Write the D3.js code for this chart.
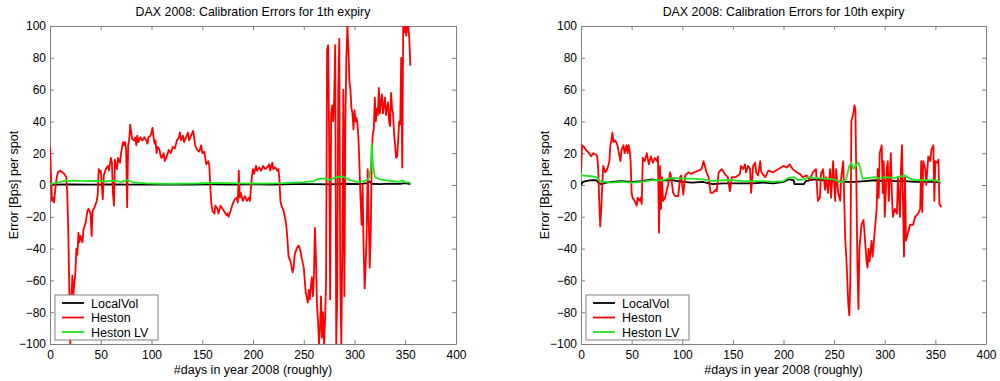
<!DOCTYPE html>
<html lang="en">
<head>
<meta charset="utf-8">
<script src="https://d3js.org/d3.v7.min.js"></script>
<style>
body { margin: 0; background: #fff; }
svg text { font-family: Arial, "Liberation Sans", Helvetica, sans-serif; fill: #000; }
</style>
</head>
<body>
<svg id="chart" width="1000" height="381"></svg>
<script>
// axis ticks
var xTicks = [0, 50, 100, 150, 200, 250, 300, 350, 400];
var yTicks = [-100, -80, -60, -40, -20, 0, 20, 40, 60, 80, 100];
var seriesNames = ["LocalVol", "Heston", "Heston LV"];
var seriesColors = ["#000000", "#ff0000", "#1ee61e"];

// 1th expiry: [day, error in bps]
var localVol1 = [[0,0.2],[20,0.3],[40,0.2],[60,0.3],[80,0.2],[100,0.3],[120,0.2],[140,0.3],[160,0.4],[180,0.3],[200,0.4],[220,0.3],[240,0.5],[260,0.6],[275,0.4],[290,0.8],[305,0.6],[313,1.2],[315,2.2],[317,0.8],[325,0.6],[335,0.9],[345,0.7],[350,1.2],[355,0.6]];
var hestonLV1 = [[0,0.5],[5,1.2],[10,2],[15,2.6],[25,2.8],[35,2.5],[45,2.6],[55,2.2],[63,2.8],[70,2],[77,3],[82,1.6],[95,1],[110,0.7],[125,0.8],[140,0.9],[150,1.1],[160,1.3],[175,1.2],[190,1],[210,0.9],[230,1.2],[250,1.8],[260,2.5],[265,4],[270,4.2],[275,3],[280,4.5],[288,5.5],[295,3.2],[302,2],[310,2.5],[314,4],[316,10],[317,26],[318,14],[320,5],[325,3.5],[335,2.6],[345,2],[347,3],[350,1.8],[355,1.5]];
var heston1 = [[0,24],[1,5],[2,-10],[3,-8],[4,-11],[5,-4],[6,2],[7,6],[8,8],[10,9],[12,8],[14,7],[15,6],[16,5],[17,-5],[18,-30],[19,-65],[20,-100],[21,-72],[22,-57],[23,-70],[24,-62],[25,-55],[26,-40],[27,-44],[28,-30],[29,-36],[30,-32],[32,-36],[33,-28],[35,-24],[37,-16],[38,-15],[40,-18],[41,-32],[42,-16],[44,-14],[46,-10],[47,-6],[48,10],[49,8],[50,9],[51,0],[52,-9],[53,6],[55,10],[57,12],[58,9],[60,17],[61,14],[62,-5],[63,-13],[64,16],[65,12],[66,10],[67,17],[69,14],[70,20],[71,24],[72,27],[73,25],[74,27],[75,22],[76,-14],[77,25],[78,28],[79,38],[80,33],[81,29],[83,28],[84,30],[85,25],[86,31],[87,27],[89,30],[91,28],[93,30],[95,28],[96,26],[97,30],[99,31],[100,33],[101,36],[102,30],[103,26],[104,28],[105,20],[106,24],[108,22],[109,18],[110,17],[112,20],[113,15],[115,18],[117,22],[119,20],[121,24],[123,23],[125,28],[127,30],[128,33],[129,28],[131,31],[132,27],[134,30],[136,33],[137,28],[139,31],[141,34],[142,30],[143,25],[145,22],[147,21],[149,25],[150,20],[152,21],[153,17],[154,13],[155,14],[156,15],[157,12],[158,-2],[159,-12],[160,-16],[162,-18],[163,-13],[165,-15],[166,-18],[168,-13],[170,-15],[172,-17],[174,-19],[175,-18],[176,-20],[178,-16],[180,-12],[182,-9],[184,-8],[185,-11],[186,9],[187,-8],[188,-5],[190,-10],[192,-7],[194,-10],[196,-8],[197,-10],[198,-2],[199,6],[200,10],[201,7],[203,12],[204,9],[206,11],[208,9],[210,12],[212,10],[214,11],[216,13],[217,9],[219,14],[220,10],[222,11],[224,9],[225,10],[226,4],[227,-10],[228,-13],[230,-16],[232,-22],[233,-27],[234,-35],[235,-45],[237,-48],[239,-55],[240,-52],[241,-44],[243,-40],[245,-38],[247,-42],[248,-46],[250,-52],[251,-60],[252,-68],[254,-74],[255,-66],[256,-72],[257,-64],[258,-58],[259,-70],[260,-58],[261,-27],[262,-45],[263,-75],[264,-85],[265,-100],[266,-90],[267,-70],[268,-96],[269,-80],[270,-100],[271,-85],[272,-60],[273,85],[274,88],[275,30],[276,-72],[277,45],[278,50],[279,40],[280,55],[281,88],[282,-100],[283,-70],[284,60],[285,92],[286,-60],[287,-100],[288,-40],[289,60],[290,-70],[291,40],[292,80],[293,100],[294,85],[295,65],[296,60],[297,48],[298,45],[299,35],[300,47],[301,40],[302,42],[303,38],[304,28],[305,10],[306,-10],[307,-25],[308,0],[309,-40],[310,-65],[311,-50],[312,-30],[313,10],[314,-20],[315,-52],[316,-30],[317,20],[318,32],[319,35],[320,55],[321,40],[322,48],[323,44],[324,61],[325,45],[326,52],[327,57],[328,45],[329,50],[330,55],[331,44],[332,48],[333,52],[334,40],[335,37],[336,58],[337,48],[338,45],[339,32],[340,25],[341,17],[342,18],[343,28],[344,40],[345,38],[346,80],[347,11],[348,100],[349,96],[350,100],[351,94],[352,100],[353,100],[354,92],[355,75]];

// 10th expiry
var localVol10 = [[0,0],[2,2],[5,2.5],[10,3],[15,3],[18,1],[20,0.5],[25,1.5],[30,2],[40,2.5],[50,2],[60,2.5],[70,3.5],[75,3],[80,3],[90,3],[100,2],[110,1.5],[120,2],[130,0.5],[140,1],[150,1],[160,1],[170,1],[180,1.5],[190,1],[200,2],[205,3.5],[210,3],[211,0.5],[220,0.5],[222,2.5],[230,3.5],[240,3],[250,2.5],[260,2],[270,2],[280,2.5],[290,3],[300,2.5],[310,2.5],[320,2.5],[330,2],[340,2],[350,2],[355,1.5]];
var hestonLV10 = [[0,6],[10,5.5],[15,5],[20,2],[25,2],[30,1.5],[40,2],[50,1.5],[60,2],[70,3],[80,3],[90,4.5],[100,4],[110,4],[120,3.5],[130,2.5],[140,3],[150,3],[160,2.5],[170,2.5],[180,2.5],[190,2],[200,2.5],[205,4.5],[210,5],[215,3],[220,3.5],[225,5],[230,4.5],[240,4],[250,3.5],[258,1.5],[262,4],[265,12],[267,14],[269,10],[272,13],[274,14],[276,10],[278,4],[285,4.5],[290,5],[295,4],[300,5],[310,4.5],[320,6],[325,4],[330,3],[340,3],[350,3],[355,2]];
var heston10 = [[0,8],[1,25],[3,24],[5,22],[8,20],[10,18],[12,20],[15,19],[16,18],[17,10],[18,-10],[19,-26],[20,-15],[21,0],[22,12],[24,8],[26,10],[28,15],[29,25],[30,28],[31,33],[32,27],[34,28],[36,25],[38,18],[39,15],[40,22],[42,25],[43,20],[45,25],[46,20],[47,25],[48,22],[49,15],[50,-5],[51,-8],[53,-10],[55,-13],[56,-8],[58,-10],[59,-8],[60,-12],[61,17],[63,15],[65,20],[67,13],[69,18],[71,14],[73,17],[75,15],[76,18],[77,-30],[78,12],[79,-15],[80,5],[81,-10],[83,-8],[86,0],[88,8],[89,5],[91,-5],[93,-7],[96,-7],[98,5],[99,6],[101,-6],[103,6],[106,8],[109,7],[112,8],[116,9],[119,10],[121,15],[124,8],[126,5],[128,-5],[130,-5],[133,-3],[134,-4],[136,8],[139,10],[142,7],[145,5],[147,-4],[149,5],[153,5],[157,7],[158,12],[160,10],[162,13],[163,8],[165,12],[167,10],[168,-5],[170,12],[172,14],[173,8],[175,6],[177,15],[178,8],[182,5],[185,9],[190,8],[195,10],[200,12],[203,11],[206,13],[209,10],[213,8],[216,7],[219,5],[223,6],[226,3],[229,8],[232,10],[234,-10],[236,-8],[237,7],[239,10],[241,-3],[242,5],[244,-5],[246,10],[247,-8],[249,15],[251,-10],[252,10],[254,-5],[256,-10],[257,5],[259,15],[260,-10],[261,-35],[262,-45],[264,-75],[265,-82],[266,-60],[267,40],[269,45],[270,50],[271,48],[272,0],[273,-50],[274,-78],[275,-40],[277,-25],[279,-22],[280,-30],[282,-48],[283,-52],[284,-40],[285,-48],[287,-35],[288,-45],[290,-30],[292,-15],[293,10],[294,-8],[295,20],[297,25],[298,-5],[299,15],[300,-20],[302,10],[303,15],[304,-10],[306,20],[307,-5],[308,-20],[310,-15],[312,-18],[313,5],[315,-20],[316,10],[317,25],[319,-45],[320,5],[321,-35],[323,-30],[325,-25],[328,-25],[330,-20],[333,-18],[335,-15],[336,15],[337,-17],[338,15],[340,10],[341,0],[343,18],[345,15],[346,22],[348,25],[349,-10],[350,15],[352,14],[353,16],[354,-12],[356,-14]];

var panels = [
  {left: 50, right: 456, title: "DAX 2008: Calibration Errors for 1th expiry", ylabX: 14,
   data: [localVol1, heston1, hestonLV1]},
  {left: 581, right: 986, title: "DAX 2008: Calibration Errors for 10th expiry", ylabX: 545,
   data: [localVol10, heston10, hestonLV10]}
];

var plotTop = 26, plotBottom = 344;
var svg = d3.select("#chart");

panels.forEach(function(p, pi) {
  var x = d3.scaleLinear().domain([0, 400]).range([p.left, p.right]);
  var y = d3.scaleLinear().domain([-100, 100]).range([plotBottom, plotTop]);
  var g = svg.append("g");

  // axes, ticks pointing inward on all four sides
  var axes = [
    d3.axisBottom(x).tickValues(xTicks).tickSizeInner(-4).tickSizeOuter(0).tickPadding(6),
    d3.axisTop(x).tickValues(xTicks).tickSizeInner(-4).tickSizeOuter(0).tickFormat(""),
    d3.axisLeft(y).tickValues(yTicks).tickSizeInner(-4).tickSizeOuter(0).tickPadding(4),
    d3.axisRight(y).tickValues(yTicks).tickSizeInner(-4).tickSizeOuter(0).tickFormat("")
  ];
  var pos = ["translate(0," + plotBottom + ")", "translate(0," + plotTop + ")",
             "translate(" + p.left + ",0)", "translate(" + p.right + ",0)"];
  axes.forEach(function(a, i) {
    var ag = g.append("g").attr("transform", pos[i]).call(a);
    ag.selectAll("path, line").attr("stroke", "#808080");
    ag.selectAll("text").attr("font-size", 12).attr("fill", "#000")
      .attr("font-family", "Arial, 'Liberation Sans', sans-serif");
  });

  var clipId = "clip" + pi;
  g.append("clipPath").attr("id", clipId).append("rect")
    .attr("x", p.left).attr("y", plotTop).attr("width", p.right - p.left).attr("height", plotBottom - plotTop);

  var line = d3.line().x(function(d) { return x(d[0]); }).y(function(d) { return y(d[1]); });
  // draw order: LocalVol, Heston, Heston LV
  p.data.forEach(function(s, i) {
    g.append("path").datum(s)
      .attr("clip-path", "url(#" + clipId + ")")
      .attr("fill", "none")
      .attr("stroke", seriesColors[i])
      .attr("stroke-width", 1.8)
      .attr("stroke-linejoin", "round")
      .attr("d", line);
  });

  g.append("text").attr("x", (p.left + p.right) / 2).attr("y", 15.5)
    .attr("text-anchor", "middle").attr("font-size", 12.4).text(p.title);
  g.append("text").attr("x", (p.left + p.right) / 2).attr("y", 374)
    .attr("text-anchor", "middle").attr("font-size", 12.5).text("#days in year 2008 (roughly)");
  g.append("text").attr("transform", "translate(" + (p.ylabX + 4) + ",185) rotate(-90)")
    .attr("text-anchor", "middle").attr("font-size", 12.5).text("Error [Bps] per spot");

  // legend
  var lx = p.left + 5, ly = 295;
  var leg = g.append("g");
  leg.append("rect").attr("x", lx).attr("y", ly).attr("width", 103).attr("height", 45)
    .attr("fill", "#fff").attr("stroke", "#808080");
  seriesNames.forEach(function(name, i) {
    var cy = ly + 8 + i * 14.5;
    leg.append("line").attr("x1", lx + 7).attr("x2", lx + 29).attr("y1", cy).attr("y2", cy)
      .attr("stroke", seriesColors[i]).attr("stroke-width", 1.8);
    leg.append("text").attr("x", lx + 36).attr("y", cy + 4.5).attr("font-size", 12.5).text(name);
  });
});
</script>
</body>
</html>
